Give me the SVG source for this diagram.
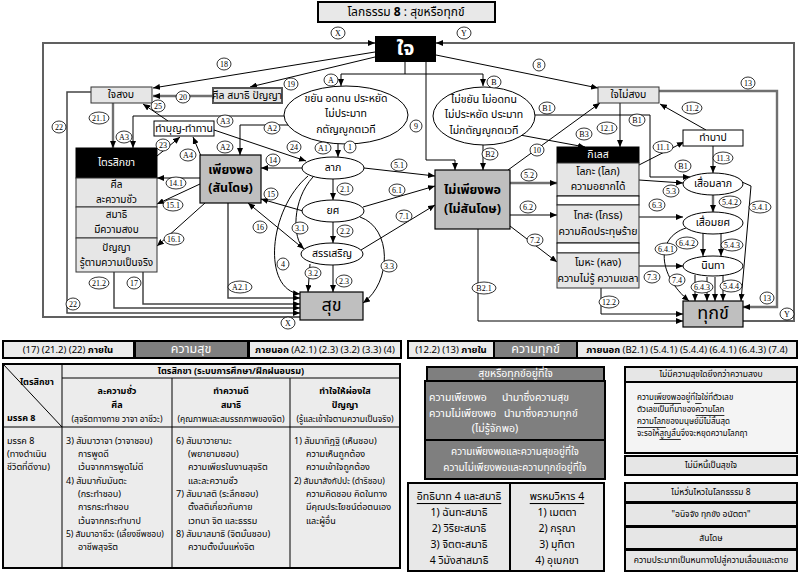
<svg xmlns="http://www.w3.org/2000/svg" width="801" height="573" viewBox="0 0 801 573">
<defs>
<style>
.ln{fill:none;stroke:#000;stroke-width:1}
.dk{fill:none;stroke:#444;stroke-width:1.5}
.gl{fill:none;stroke:#707070;stroke-width:2.4}
.fr{fill:none;stroke:#606060;stroke-width:2}
.lb ellipse{fill:#fff;stroke:#000;stroke-width:0.8}
.lb text{font-family:"Liberation Serif",serif;font-size:8px;text-anchor:middle;dominant-baseline:central}
.th{font-family:"Noto Sans Thai","Noto Serif Thai","Tahoma","DejaVu Sans","Liberation Sans",sans-serif;font-size:10.5px;text-anchor:middle;dominant-baseline:central;fill:#000}
.tl{font-family:"Noto Sans Thai","Noto Serif Thai","Tahoma","DejaVu Sans","Liberation Sans",sans-serif;font-size:9px;dominant-baseline:central;fill:#000}
.sm{font-size:9px}
.b{font-weight:bold}
.w{fill:#fff}
.lg{fill:#e6e6e6;stroke:#333;stroke-width:1}
.gy{fill:#bfbfbf;stroke:#000;stroke-width:1.2}
.wb{fill:#fff;stroke:#000;stroke-width:1}
.el{fill:#fff;stroke:#000;stroke-width:1}
.bar{fill:#ebebeb;stroke:#000;stroke-width:2}
.dbar{fill:#7f7f7f;stroke:#000;stroke-width:2}
.tb{fill:#ececec;stroke:#000;stroke-width:2}
.tg{stroke:#000;stroke-width:1}
.pb{fill:#e6e6e6;stroke:#000;stroke-width:2}
</style>
<marker id="ah" markerUnits="userSpaceOnUse" markerWidth="7" markerHeight="6" refX="7" refY="3" orient="auto">
<path d="M0,0 L7,3 L0,6 z" fill="#000"/>
</marker>
</defs>
<rect width="801" height="573" fill="#fff"/>

<g id="connectors" marker-end="url(#ah)">
<path class="fr" d="M300,317 H43 V43 H375"/>
<path class="fr" d="M743,321 H794 V43 H436"/>
<path class="ln" d="M375,52 L153,88"/>
<path class="ln" d="M375,57 L250,87"/>
<path class="gl" d="M213,96 H153"/>
<path class="ln" d="M436,55 L598,88"/>
<path class="ln" d="M405,62 V74" marker-end="none"/>
<path class="ln" d="M341,74 H483" marker-end="none"/>
<path class="ln" d="M341,74 V86"/>
<path class="ln" d="M483,74 V86"/>
<path class="ln" d="M426,62 V160 H455 V170"/>
<path class="ln" d="M483,145 V170"/>
<path class="ln" d="M535,115 H650 V177 H690"/>
<path class="ln" d="M520,135 L585,147"/>
<path class="ln" d="M508,170 L600,103"/>
<path class="ln" d="M620,103 V147"/>
<path class="gl" d="M659,91 H777 V307 H743"/>
<path class="ln" d="M639,165 L684,142"/>
<path class="ln" d="M706,130 L660,104"/>
<path class="ln" d="M713,146 V173"/>
<path class="gl" d="M510,183 H557"/>
<path class="ln" d="M510,215 H557"/>
<path class="ln" d="M510,226 L557,262"/>
<path class="ln" d="M478,229 V321 H683"/>
<path class="ln" d="M601,288 V314 H683"/>
<path class="ln" d="M639,180 L683,183"/>
<path class="ln" d="M639,217 H683"/>
<path class="ln" d="M639,266 H683"/>
<path class="gl" d="M713,195 V212"/>
<path class="ln" d="M742,182 L751,186 L741,301"/>
<path class="ln" d="M703,233 V256"/>
<path class="ln" d="M721,233 V256"/>
<path class="ln" d="M686,228 C655,238 658,275 689,301"/>
<path class="ln" d="M695,275 V301"/>
<path class="ln" d="M707,277 V301"/>
<path class="ln" d="M715,277 V301"/>
<path class="ln" d="M723,275 V301"/>
<path class="gl" d="M113,103 V148"/>
<path class="dk" d="M91,92 H67 V313 H300"/>
<path class="ln" d="M285,116 H133 V148"/>
<path class="ln" d="M168,121 L143,104"/>
<path class="ln" d="M157,156 L180,137"/>
<path class="ln" d="M201,156 L193,137"/>
<path class="ln" d="M288,125 H240 V155"/>
<path class="ln" d="M214,130 L306,161"/>
<path class="ln" d="M338,144 V157"/>
<path class="ln" d="M302,168 H261"/>
<path class="ln" d="M200,178 H157"/>
<path class="ln" d="M303,211 L261,199"/>
<path class="ln" d="M200,184 L157,204"/>
<path class="ln" d="M305,250 L248,203"/>
<path class="ln" d="M205,203 L157,246"/>
<path class="dk" d="M143,272 V304 H300"/>
<path class="dk" d="M114,272 V308 H300"/>
<path class="dk" d="M228,203 V298 H300"/>
<path class="ln" d="M333,179 V200"/>
<path class="ln" d="M333,222 V243"/>
<path class="ln" d="M333,265 V292"/>
<path class="ln" d="M313,177 C292,200 292,238 304,249"/>
<path class="ln" d="M308,176 C268,210 262,290 300,294"/>
<path class="ln" d="M310,264 L308,292"/>
<path class="ln" d="M360,217 C392,228 392,282 363,303"/>
<path class="ln" d="M364,168 L435,176"/>
<path class="ln" d="M363,207 L435,186"/>
<path class="ln" d="M361,250 L435,205"/>
</g>

<g id="title">
<rect x="318" y="2" width="177" height="20" fill="#e8e8e8" stroke="#000" stroke-width="2"/>
<text class="th" x="406" y="12" style="font-size:12px">โลกธรรม <tspan class="b">8</tspan> : สุขหรือทุกข์</text>
</g>
<g id="jai">
<rect x="375" y="36" width="61" height="26" fill="#000"/>
<text class="th b w" x="405.5" y="49" style="font-size:20px">ใจ</text>
</g>
<g id="jai-sangob">
<rect class="lg" x="91" y="87" width="61" height="16"/>
<text class="th" x="121" y="95">ใจสงบ</text>
</g>
<g id="sila-samadhi-panya">
<rect x="213" y="88" width="69" height="15" fill="#e6e6e6" stroke="#555" stroke-width="2"/>
<text class="th" x="247" y="95.5">ศีล สมาธิ ปัญญา</text>
</g>
<g id="tambun">
<rect class="wb" x="154" y="121" width="60" height="15"/>
<text class="th" x="184" y="128.5">ทำบุญ-ทำทาน</text>
</g>
<g id="trisikkha">
<rect x="76" y="148" width="81" height="30" fill="#000" stroke="#000"/>
<text class="th w" x="116.5" y="163">ไตรสิกขา</text>
<rect class="lg" x="76" y="178" width="81" height="29"/>
<text class="th" x="116.5" y="185" style="font-size:10px">ศีล</text>
<text class="th" x="116.5" y="200" style="font-size:10px">ละความชั่ว</text>
<rect class="lg" x="76" y="207" width="81" height="31"/>
<text class="th" x="116.5" y="215" style="font-size:10px">สมาธิ</text>
<text class="th" x="116.5" y="230" style="font-size:10px">มีความสงบ</text>
<rect class="lg" x="76" y="238" width="81" height="34"/>
<text class="th" x="116.5" y="248" style="font-size:10px">ปัญญา</text>
<text class="th" x="116.5" y="263" style="font-size:10px">รู้ตามความเป็นจริง</text>
</g>
<g id="piangpor">
<rect class="gy" x="200" y="155" width="61" height="48"/>
<text class="th b" x="230.5" y="170" style="font-size:12.5px">เพียงพอ</text>
<text class="th b" x="230.5" y="188" style="font-size:12.5px">(สันโดษ)</text>
</g>
<g id="virtues">
<ellipse class="el" cx="346" cy="115" rx="62" ry="29"/>
<text class="th" x="346" y="99">ขยัน อดทน ประหยัด</text>
<text class="th" x="346" y="114">ไม่ประมาท</text>
<text class="th" x="346" y="130">กตัญญูกตเวที</text>
</g>
<g id="vices">
<ellipse class="el" cx="484" cy="116" rx="51" ry="29"/>
<text class="th" x="484" y="100">ไม่ขยัน ไม่อดทน</text>
<text class="th" x="484" y="115">ไม่ประหยัด ประมาท</text>
<text class="th" x="484" y="131">ไม่กตัญญูกตเวที</text>
</g>
<g id="labh">
<ellipse class="el" cx="333" cy="168" rx="31" ry="11"/>
<text class="th" x="333" y="168">ลาภ</text>
</g>
<g id="yot">
<ellipse class="el" cx="333" cy="211" rx="31" ry="11"/>
<text class="th" x="333" y="211">ยศ</text>
</g>
<g id="sansoen">
<ellipse class="el" cx="332" cy="254" rx="31" ry="11"/>
<text class="th" x="332" y="254">สรรเสริญ</text>
</g>
<g id="suk">
<rect class="gy" x="300" y="292" width="63" height="28"/>
<text class="th" x="331.5" y="305" style="font-size:18px">สุข</text>
</g>
<g id="mai-piangpor">
<rect class="gy" x="435" y="170" width="75" height="59"/>
<text class="th b" x="472.5" y="190" style="font-size:12.5px">ไม่เพียงพอ</text>
<text class="th b" x="472.5" y="209" style="font-size:12.5px">(ไม่สันโดษ)</text>
</g>
<g id="jai-mai-sangob">
<rect class="lg" x="598" y="87" width="61" height="16"/>
<text class="th" x="628.5" y="95">ใจไม่สงบ</text>
</g>
<g id="tambap">
<rect class="wb" x="683" y="130" width="60" height="16"/>
<text class="th" x="713" y="138">ทำบาป</text>
</g>
<g id="kilesa">
<rect x="557" y="147" width="82" height="16" fill="#000" stroke="#000"/>
<text class="th w" x="598" y="155">กิเลส</text>
<rect class="lg" x="557" y="163" width="82" height="33"/>
<text class="th" x="598" y="172">โลภะ (โลภ)</text>
<text class="th" x="598" y="187">ความอยากได้</text>
<rect class="wb" x="557" y="196" width="82" height="9"/>
<rect class="lg" x="557" y="205" width="82" height="38"/>
<text class="th" x="598" y="216">โทสะ (โกรธ)</text>
<text class="th" x="598" y="232">ความคิดประทุษร้าย</text>
<rect class="wb" x="557" y="243" width="82" height="10"/>
<rect class="lg" x="557" y="253" width="82" height="35"/>
<text class="th" x="598" y="263">โมหะ (หลง)</text>
<text class="th" x="598" y="279">ความไม่รู้ ความเขลา</text>
</g>
<g id="suam-labh">
<ellipse class="el" cx="713" cy="184" rx="30" ry="11"/>
<text class="th" x="713" y="184">เสื่อมลาภ</text>
</g>
<g id="suam-yot">
<ellipse class="el" cx="713" cy="223" rx="30" ry="11"/>
<text class="th" x="713" y="223">เสื่อมยศ</text>
</g>
<g id="nintha">
<ellipse class="el" cx="713" cy="266" rx="30" ry="10"/>
<text class="th" x="713" y="266">นินทา</text>
</g>
<g id="tuk">
<rect class="gy" x="683" y="301" width="60" height="26"/>
<text class="th" x="713" y="313" style="font-size:18px">ทุกข์</text>
</g>

<g id="connector-labels" class="lb">
<g><ellipse cx="338" cy="33" rx="7" ry="6"/><text x="338" y="33">X</text></g>
<g><ellipse cx="464" cy="33" rx="7" ry="6"/><text x="464" y="33">Y</text></g>
<g><ellipse cx="224" cy="64" rx="7" ry="6"/><text x="224" y="64">18</text></g>
<g><ellipse cx="291" cy="84" rx="7" ry="6"/><text x="291" y="84">19</text></g>
<g><ellipse cx="183" cy="97" rx="7" ry="6"/><text x="183" y="97">20</text></g>
<g><ellipse cx="158" cy="106" rx="7" ry="6"/><text x="158" y="106">25</text></g>
<g><ellipse cx="99" cy="118" rx="10" ry="6"/><text x="99" y="118">21.1</text></g>
<g><ellipse cx="59" cy="127" rx="7" ry="6"/><text x="59" y="127">22</text></g>
<g><ellipse cx="225" cy="121" rx="8" ry="6"/><text x="225" y="121">A3</text></g>
<g><ellipse cx="124" cy="137" rx="8" ry="6"/><text x="124" y="137">A3</text></g>
<g><ellipse cx="272" cy="128" rx="8" ry="6"/><text x="272" y="128">A2</text></g>
<g><ellipse cx="163" cy="145" rx="7" ry="6"/><text x="163" y="145">23</text></g>
<g><ellipse cx="188" cy="155" rx="8" ry="6"/><text x="188" y="155">A4</text></g>
<g><ellipse cx="225" cy="147" rx="8" ry="6"/><text x="225" y="147">A2</text></g>
<g><ellipse cx="294" cy="147" rx="7" ry="6"/><text x="294" y="147">24</text></g>
<g><ellipse cx="323" cy="148" rx="8" ry="6"/><text x="323" y="148">A1</text></g>
<g><ellipse cx="350" cy="147" rx="6" ry="6"/><text x="350" y="147">1</text></g>
<g><ellipse cx="331" cy="80" rx="7" ry="6"/><text x="331" y="80">A</text></g>
<g><ellipse cx="494" cy="82" rx="7" ry="6"/><text x="494" y="82">B</text></g>
<g><ellipse cx="416" cy="126" rx="6" ry="6"/><text x="416" y="126">9</text></g>
<g><ellipse cx="490" cy="154" rx="8" ry="6"/><text x="490" y="154">B2</text></g>
<g><ellipse cx="273" cy="160" rx="7" ry="6"/><text x="273" y="160">14</text></g>
<g><ellipse cx="176" cy="183" rx="10" ry="6"/><text x="176" y="183">14.1</text></g>
<g><ellipse cx="271" cy="194" rx="7" ry="6"/><text x="271" y="194">15</text></g>
<g><ellipse cx="173" cy="205" rx="10" ry="6"/><text x="173" y="205">15.1</text></g>
<g><ellipse cx="260" cy="227" rx="7" ry="6"/><text x="260" y="227">16</text></g>
<g><ellipse cx="174" cy="239" rx="10" ry="6"/><text x="174" y="239">16.1</text></g>
<g><ellipse cx="99" cy="283" rx="10" ry="6"/><text x="99" y="283">21.2</text></g>
<g><ellipse cx="134" cy="283" rx="7" ry="6"/><text x="134" y="283">17</text></g>
<g><ellipse cx="73" cy="304" rx="7" ry="6"/><text x="73" y="304">22</text></g>
<g><ellipse cx="240" cy="287" rx="12" ry="6"/><text x="240" y="287">A2.1</text></g>
<g><ellipse cx="283" cy="264" rx="6" ry="6"/><text x="283" y="264">4</text></g>
<g><ellipse cx="300" cy="228" rx="8" ry="6"/><text x="300" y="228">3.1</text></g>
<g><ellipse cx="345" cy="189" rx="8" ry="6"/><text x="345" y="189">2.1</text></g>
<g><ellipse cx="345" cy="231" rx="8" ry="6"/><text x="345" y="231">2.2</text></g>
<g><ellipse cx="313" cy="273" rx="8" ry="6"/><text x="313" y="273">3.2</text></g>
<g><ellipse cx="344" cy="281" rx="8" ry="6"/><text x="344" y="281">2.3</text></g>
<g><ellipse cx="389" cy="266" rx="8" ry="6"/><text x="389" y="266">3.3</text></g>
<g><ellipse cx="399" cy="165" rx="8" ry="6"/><text x="399" y="165">5.1</text></g>
<g><ellipse cx="397" cy="190" rx="8" ry="6"/><text x="397" y="190">6.1</text></g>
<g><ellipse cx="404" cy="216" rx="8" ry="6"/><text x="404" y="216">7.1</text></g>
<g><ellipse cx="288" cy="323" rx="7" ry="6"/><text x="288" y="323">X</text></g>
<g><ellipse cx="539" cy="65" rx="6" ry="6"/><text x="539" y="65">8</text></g>
<g><ellipse cx="547" cy="108" rx="8" ry="6"/><text x="547" y="108">B1</text></g>
<g><ellipse cx="537" cy="150" rx="7" ry="6"/><text x="537" y="150">10</text></g>
<g><ellipse cx="584" cy="134" rx="8" ry="6"/><text x="584" y="134">B3</text></g>
<g><ellipse cx="607" cy="128" rx="10" ry="6"/><text x="607" y="128">12.1</text></g>
<g><ellipse cx="637" cy="120" rx="8" ry="6"/><text x="637" y="120">B1</text></g>
<g><ellipse cx="748" cy="83" rx="7" ry="6"/><text x="748" y="83">13</text></g>
<g><ellipse cx="692" cy="108" rx="10" ry="6"/><text x="692" y="108">11.2</text></g>
<g><ellipse cx="663" cy="147" rx="10" ry="6"/><text x="663" y="147">11.1</text></g>
<g><ellipse cx="723" cy="158" rx="10" ry="6"/><text x="723" y="158">11.3</text></g>
<g><ellipse cx="683" cy="166" rx="8" ry="6"/><text x="683" y="166">B1</text></g>
<g><ellipse cx="529" cy="175" rx="8" ry="6"/><text x="529" y="175">5.2</text></g>
<g><ellipse cx="528" cy="207" rx="8" ry="6"/><text x="528" y="207">6.2</text></g>
<g><ellipse cx="535" cy="240" rx="8" ry="6"/><text x="535" y="240">7.2</text></g>
<g><ellipse cx="484" cy="288" rx="12" ry="6"/><text x="484" y="288">B2.1</text></g>
<g><ellipse cx="671" cy="191" rx="8" ry="6"/><text x="671" y="191">5.3</text></g>
<g><ellipse cx="657" cy="205" rx="8" ry="6"/><text x="657" y="205">6.3</text></g>
<g><ellipse cx="730" cy="202" rx="11" ry="6"/><text x="730" y="202">5.4.2</text></g>
<g><ellipse cx="760" cy="207" rx="11" ry="6"/><text x="760" y="207">5.4.1</text></g>
<g><ellipse cx="666" cy="249" rx="11" ry="6"/><text x="666" y="249">6.4.1</text></g>
<g><ellipse cx="687" cy="243" rx="11" ry="6"/><text x="687" y="243">6.4.2</text></g>
<g><ellipse cx="732" cy="245" rx="11" ry="6"/><text x="732" y="245">5.4.3</text></g>
<g><ellipse cx="652" cy="277" rx="8" ry="6"/><text x="652" y="277">7.3</text></g>
<g><ellipse cx="677" cy="280" rx="8" ry="6"/><text x="677" y="280">7.4</text></g>
<g><ellipse cx="702" cy="287" rx="11" ry="6"/><text x="702" y="287">6.4.3</text></g>
<g><ellipse cx="731" cy="286" rx="11" ry="6"/><text x="731" y="286">5.4.4</text></g>
<g><ellipse cx="609" cy="302" rx="10" ry="6"/><text x="609" y="302">12.2</text></g>
<g><ellipse cx="767" cy="298" rx="7" ry="6"/><text x="767" y="298">13</text></g>
<g><ellipse cx="787" cy="314" rx="7" ry="6"/><text x="787" y="314">Y</text></g>
</g>

<g id="bar-suk">
<rect class="bar" x="3" y="341" width="131" height="17"/>
<text class="th" x="68" y="349.5" style="font-size:9.5px">(17) (21.2) (22) <tspan class="b">ภายใน</tspan></text>
<rect class="dbar" x="135" y="341" width="113" height="17"/>
<text class="th w" x="191" y="349.5" style="font-size:12.5px">ความสุข</text>
<rect class="bar" x="249" y="341" width="152" height="17"/>
<text class="th" x="325" y="349.5" style="font-size:9.5px"><tspan class="b">ภายนอก</tspan> (A2.1) (2.3) (3.2) (3.3) (4)</text>
</g>
<g id="bar-tuk">
<rect class="bar" x="408" y="341" width="86" height="17"/>
<text class="th" x="451" y="349.5" style="font-size:9.5px">(12.2) (13) <tspan class="b">ภายใน</tspan></text>
<rect class="dbar" x="494" y="341" width="83" height="17"/>
<text class="th w" x="535.5" y="349.5" style="font-size:12.5px">ความทุกข์</text>
<rect class="bar" x="577" y="341" width="220" height="17"/>
<text class="th" x="687" y="349.5" style="font-size:9.5px"><tspan class="b">ภายนอก</tspan> (B2.1) (5.4.1)  (5.4.4) (6.4.1) (6.4.3) (7.4)</text>
</g>

<g id="table-trisikkha">
<rect class="tb" x="3" y="364" width="397" height="204"/>
<line class="tg" x1="62" y1="364" x2="62" y2="568"/>
<line class="tg" x1="62" y1="378" x2="400" y2="378"/>
<line class="tg" x1="3" y1="427" x2="400" y2="427"/>
<line class="tg" x1="172" y1="378" x2="172" y2="568"/>
<line class="tg" x1="290" y1="378" x2="290" y2="568"/>
<line class="tg" x1="3" y1="364" x2="62" y2="427"/>
<text class="tl b" x="20" y="382">ไตรสิกขา</text>
<text class="tl b" x="7" y="418">มรรค 8</text>
<text class="th sm b" x="231" y="371">ไตรสิกขา (ระบบการศึกษา/ฝึกฝนอบรม)</text>
<text class="th sm b" x="117" y="391">ละความชั่ว</text>
<text class="th sm b" x="117" y="405">ศีล</text>
<text class="th" x="117" y="419" style="font-size:8.5px">(สุจริตทางกาย วาจา อาชีวะ)</text>
<text class="th sm b" x="231" y="391">ทำความดี</text>
<text class="th sm b" x="231" y="405">สมาธิ</text>
<text class="th" x="231" y="419" style="font-size:8.5px">(คุณภาพและสมรรถภาพของจิต)</text>
<text class="th sm b" x="345" y="391">ทำใจให้ผ่องใส</text>
<text class="th sm b" x="345" y="405">ปัญญา</text>
<text class="th" x="345" y="419" style="font-size:8.5px">(รู้และเข้าใจตามความเป็นจริง)</text>
<text class="tl" x="7" y="441">มรรค 8</text>
<text class="tl" x="7" y="454">(ทางดำเนิน</text>
<text class="tl" x="7" y="467">ชีวิตที่ดีงาม)</text>
<text class="tl" x="66" y="441">3) สัมมาวาจา (วาจาชอบ)</text>
<text class="tl" x="78" y="454">การพูดดี</text>
<text class="tl" x="78" y="467">เว้นจากการพูดไม่ดี</text>
<text class="tl" x="66" y="481">4) สัมมากัมมันตะ</text>
<text class="tl" x="78" y="494">(กระทำชอบ)</text>
<text class="tl" x="78" y="507">การกระทำชอบ</text>
<text class="tl" x="78" y="521">เว้นจากกระทำบาป</text>
<text class="tl" x="66" y="534" style="font-size:8.5px">5) สัมมาอาชีวะ (เลี้ยงชีพชอบ)</text>
<text class="tl" x="78" y="547">อาชีพสุจริต</text>
<text class="tl" x="176" y="441">6) สัมมาวายามะ</text>
<text class="tl" x="188" y="454">(พยายามชอบ)</text>
<text class="tl" x="188" y="467">ความเพียรในงานสุจริต</text>
<text class="tl" x="188" y="481">และละความชั่ว</text>
<text class="tl" x="176" y="494">7) สัมมาสติ  (ระลึกชอบ)</text>
<text class="tl" x="188" y="507">ตั้งสติเกี่ยวกับกาย</text>
<text class="tl" x="188" y="521">เวทนา จิต และธรรม</text>
<text class="tl" x="176" y="534">8) สัมมาสมาธิ (จิตมั่นชอบ)</text>
<text class="tl" x="188" y="547">ความตั้งมั่นแห่งจิต</text>
<text class="tl" x="294" y="441">1) สัมมาทิฏฐิ (เห็นชอบ)</text>
<text class="tl" x="306" y="454">ความเห็นถูกต้อง</text>
<text class="tl" x="306" y="467">ความเข้าใจถูกต้อง</text>
<text class="tl" x="294" y="481" style="font-size:8.5px">2) สัมมาสังกัปปะ (ดำริชอบ)</text>
<text class="tl" x="306" y="494">ความคิดชอบ คิดในทาง</text>
<text class="tl" x="306" y="507">มีคุณประโยชน์ต่อตนเอง</text>
<text class="tl" x="306" y="521">และผู้อื่น</text>
</g>

<g id="suk-tuk-at-heart">
<rect class="dbar" x="427" y="367" width="177" height="14"/>
<text class="th w" x="515.5" y="374">สุขหรือทุกข์อยู่ที่ใจ</text>
<rect class="dbar" x="425" y="381" width="180" height="59"/>
<text class="tl w" x="429" y="398" style="font-size:10.5px">ความเพียงพอ</text>
<text class="tl w" x="502" y="398" style="font-size:10.5px">นำมาซึ่งความสุข</text>
<text class="tl w" x="429" y="414" style="font-size:10.5px">ความไม่เพียงพอ</text>
<text class="tl w" x="504" y="414" style="font-size:10.5px">นำมาซึ่งความทุกข์</text>
<text class="th w" x="495" y="429">(ไม่รู้จักพอ)</text>
<rect class="dbar" x="425" y="440" width="180" height="39"/>
<text class="th w" x="515" y="451.5" style="font-size:10px">ความเพียงพอและความสุขอยู่ที่ใจ</text>
<text class="th w" x="515" y="467.5" style="font-size:10px">ความไม่เพียงพอและความทุกข์อยู่ที่ใจ</text>
</g>

<g id="itthibat-brahmavihara">
<rect x="408" y="483" width="196" height="88" fill="#e8e8e8" stroke="#000" stroke-width="2"/>
<line x1="510" y1="483" x2="510" y2="571" stroke="#000" stroke-width="2"/>
<text class="th" x="459" y="497" text-decoration="underline">อิทธิบาท 4 และสมาธิ</text>
<text class="th" x="459" y="513">1) ฉันทะสมาธิ</text>
<text class="th" x="459" y="529">2) วิริยะสมาธิ</text>
<text class="th" x="459" y="545">3) จิตตะสมาธิ</text>
<text class="th" x="459" y="561">4 วิมังสาสมาธิ</text>
<text class="th" x="557" y="497" text-decoration="underline">พรหมวิหาร 4</text>
<text class="th" x="557" y="513">1) เมตตา</text>
<text class="th" x="557" y="529">2) กรุณา</text>
<text class="th" x="557" y="545">3) มุทิตา</text>
<text class="th" x="557" y="561">4) อุเบกขา</text>
</g>

<g id="peace-box">
<rect class="pb" x="625" y="367" width="172" height="15"/>
<text class="th" x="711" y="374.5" style="font-size:8.5px">ไม่มีความสุขใดยิ่งกว่าความสงบ</text>
<rect x="625" y="382" width="172" height="71" fill="#f4f4f4" stroke="#000" stroke-width="2"/>
<text class="tl" x="637" y="398" style="font-size:8px">ความ<tspan text-decoration="underline">เพียงพอ</tspan>อยู่ที่<tspan text-decoration="underline">ใจ</tspan>ใช่ที่ตัวเลข</text>
<text class="tl" x="637" y="410" style="font-size:8px">ตัวเลขเป็นที่มาของ<tspan text-decoration="underline">ความโลภ</tspan></text>
<text class="tl" x="637" y="422" style="font-size:8px"><tspan text-decoration="underline">ความโลภ</tspan>ของมนุษย์มีไม่สิ้นสุด</text>
<text class="tl" x="637" y="434" style="font-size:8px">จะรอให้<tspan text-decoration="underline">สูญสิ้น</tspan>จึงจะหยุดความโลภฤา</text>
<rect class="pb" x="625" y="456" width="172" height="19"/>
<text class="th" x="711" y="465.5" style="font-size:8.5px">ไม่มีหนี้เป็นสุขใจ</text>
</g>

<g id="worldly-box">
<rect class="pb" x="625" y="483" width="172" height="19"/>
<text class="th" x="711" y="492.5" style="font-size:8.5px">ไม่หวั่นไหวในโลกธรรม 8</text>
<rect class="pb" x="625" y="503" width="172" height="23"/>
<text class="th" x="711" y="514.5" style="font-size:8.5px">"อนิจจัง ทุกขัง อนัตตา"</text>
<rect class="pb" x="625" y="527" width="172" height="22"/>
<text class="th" x="711" y="538" style="font-size:8.5px">สันโดษ</text>
<rect class="pb" x="625" y="550" width="172" height="21"/>
<text class="th" x="711" y="560.5" style="font-size:8.5px">ความประมาทเป็นหนทางไปสู่ความเสื่อมและตาย</text>
</g>
</svg>
